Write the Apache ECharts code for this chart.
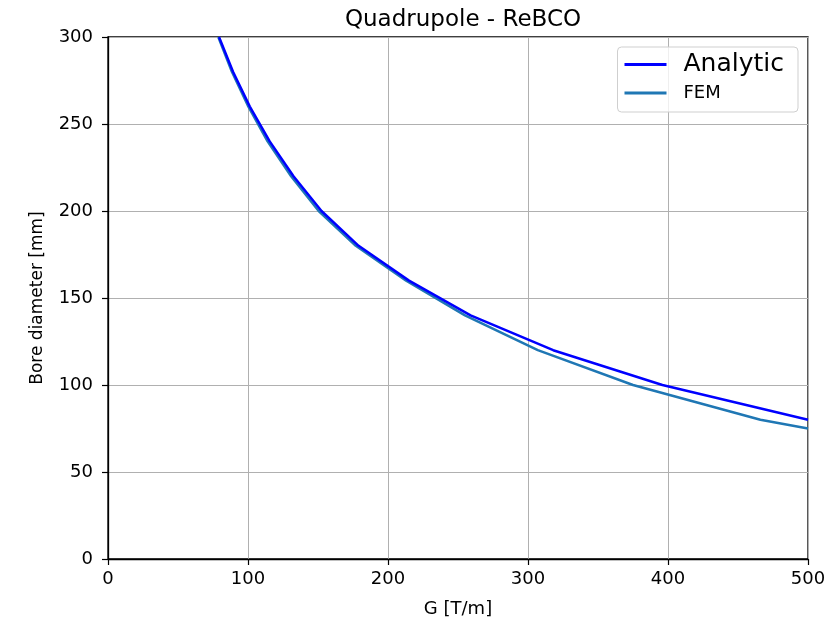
<!DOCTYPE html>
<html>
<head>
<meta charset="utf-8">
<script src="https://cdn.jsdelivr.net/npm/echarts@6/dist/echarts.min.js"></script>
<style>
  html, body { margin: 0; padding: 0; background: #fff; }
  #chart { width: 829px; height: 623px; }
</style>
</head>
<body>
<div id="chart"></div>
<script>
// Bore diameter [mm] sampled in 20 mm steps
const boreDiameter = [300, 280, 260, 240, 220, 200, 180, 160, 140, 120, 100, 80];
// Analytic gradient G [T/m] for each bore diameter
const analyticG = [79.3, 89.3, 101.3, 115.5, 132.5, 152.5, 179, 215, 259, 318, 396, 500];
// FEM gradient G [T/m] for each bore diameter, plus the last point at 500 T/m
const femDiameter = [300, 280, 260, 240, 220, 200, 180, 160, 140, 120, 100, 80, 75];
const femG = [78.8, 88.5, 100.3, 114, 130.8, 150.5, 177, 213, 255, 307, 375, 466, 500];

const xTicks = [0, 100, 200, 300, 400, 500];
const yTicks = [0, 50, 100, 150, 200, 250, 300];

const font = 'DejaVu Sans';
const chart = echarts.init(document.getElementById('chart'), null, { renderer: 'canvas' });

chart.setOption({
  animation: false,
  backgroundColor: '#ffffff',
  title: {
    text: 'Quadrupole - ReBCO',
    left: 458, top: 4, textAlign: 'center',
    textStyle: { fontFamily: font, fontSize: 23, fontWeight: 'normal', color: '#000' }
  },
  grid: {
    left: 108, right: 21, top: 37, bottom: 64,
    show: true, borderColor: '#000', borderWidth: 1.3, backgroundColor: 'transparent'
  },
  legend: {
    orient: 'vertical',
    right: 31, top: 47,
    padding: [5, 14, 10, 7],
    itemWidth: 42, itemHeight: 3,
    itemGap: 7,
    backgroundColor: 'rgba(255,255,255,0.8)',
    borderColor: '#cfcfcf', borderWidth: 1, borderRadius: 4,
    icon: 'rect',
    data: ['Analytic', 'FEM'],
    formatter: function (name) {
      return name === 'Analytic' ? '{big|' + name + '}' : '{small|' + name + '}';
    },
    textStyle: {
      fontFamily: font, color: '#000',
      rich: {
        big: { fontFamily: font, fontSize: 25, color: '#000', padding: [0, 0, 0, 12], height: 28 },
        small: { fontFamily: font, fontSize: 18, color: '#000', padding: [0, 0, 0, 12], height: 22 }
      }
    }
  },
  xAxis: {
    type: 'value', min: 0, max: 500, interval: 100,
    name: 'G [T/m]', nameLocation: 'middle', nameGap: 41,
    nameTextStyle: { fontFamily: font, fontSize: 18, color: '#000' },
    axisLine: { show: true, onZero: false, lineStyle: { color: '#000', width: 1.3 } },
    axisTick: { show: true, inside: false, length: 6, lineStyle: { color: '#000', width: 1.2 } },
    axisLabel: {
      fontFamily: font, fontSize: 18, color: '#000', margin: 11,
      formatter: v => xTicks.includes(v) ? String(v) : ''
    },
    splitLine: { show: true, lineStyle: { color: '#b0b0b0', width: 1 } }
  },
  yAxis: {
    type: 'value', min: 0, max: 300, interval: 50,
    name: 'Bore diameter [mm]', nameLocation: 'middle', nameGap: 62, nameRotate: 90,
    nameTextStyle: { fontFamily: font, fontSize: 17, color: '#000' },
    axisLine: { show: true, onZero: false, lineStyle: { color: '#000', width: 1.3 } },
    axisTick: { show: true, inside: false, length: 6, lineStyle: { color: '#000', width: 1.2 } },
    axisLabel: {
      fontFamily: font, fontSize: 18, color: '#000', margin: 15,
      formatter: v => yTicks.includes(v) ? String(v) : ''
    },
    splitLine: { show: true, lineStyle: { color: '#b0b0b0', width: 1 } }
  },
  series: [
    {
      name: 'Analytic', type: 'line', z: 3,
      data: analyticG.map((g, i) => [g, boreDiameter[i]]),
      showSymbol: false, symbol: 'none', clip: true,
      lineStyle: { color: '#0000ff', width: 2.5 },
      itemStyle: { color: '#0000ff' }
    },
    {
      name: 'FEM', type: 'line', z: 2,
      data: femG.map((g, i) => [g, femDiameter[i]]),
      showSymbol: false, symbol: 'none', clip: true,
      lineStyle: { color: '#1f77b4', width: 2.5 },
      itemStyle: { color: '#1f77b4' }
    }
  ]
});
</script>
</body>
</html>
